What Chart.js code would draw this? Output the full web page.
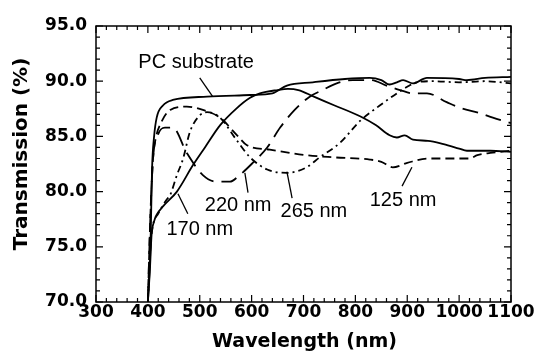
<!DOCTYPE html>
<html>
<head>
<meta charset="utf-8">
<script src="https://cdn.jsdelivr.net/npm/chart.js@4.4.0/dist/chart.umd.min.js"></script>
<style>
  body { margin: 0; background: #fff; }
  canvas { display: block; }
</style>
</head>
<body>
<canvas id="myCanvas" width="537" height="355"></canvas>
<script>
// transmission spectra (wavelength in nm, T in %)
const pcWl = [400, 405, 408, 412, 417, 429, 448, 514, 597, 640, 668, 718, 780, 828, 850, 866, 880, 892, 911, 938, 1000, 1015, 1050, 1100];
const pcT  = [70, 75, 82, 85.0, 86.7, 87.8, 88.3, 88.6, 88.75, 88.9, 89.6, 89.9, 90.2, 90.3, 90.1, 89.7, 89.9, 90.1, 89.8, 90.3, 90.2, 90.1, 90.3, 90.4];

const wl170 = [400, 404, 407, 412, 417, 430, 456, 487, 510, 539, 570, 597, 616, 650, 670, 690, 720, 760, 810, 840, 866, 880, 895, 911, 940, 970, 1000, 1015, 1060, 1100];
const t170  = [70, 73, 76, 77.3, 77.9, 78.7, 80.0, 82.4, 84.0, 86.0, 87.5, 88.5, 88.9, 89.2, 89.3, 89.2, 88.6, 87.8, 86.8, 86.0, 85.1, 84.9, 85.1, 84.7, 84.6, 84.3, 83.9, 83.7, 83.7, 83.6];

const wl125 = [400, 405, 410, 416, 423, 443, 475, 506, 539, 572, 591, 635, 706, 760, 828, 850, 872, 900, 940, 1020, 1035, 1060, 1100];
const t125  = [70, 78, 83, 85.0, 86.0, 87.4, 87.7, 87.4, 86.7, 85.1, 84.2, 83.8, 83.3, 83.1, 82.9, 82.7, 82.2, 82.6, 83.0, 83.0, 83.3, 83.5, 83.7];

const wl220 = [400, 405, 410, 419, 433, 448, 475, 506, 533, 558, 577, 600, 630, 655, 683, 712, 737, 764, 795, 830, 860, 886, 911, 938, 976, 1001, 1040, 1065, 1100];
const t220  = [70, 78, 83, 85.1, 85.8, 85.8, 83.5, 81.5, 80.9, 80.9, 81.5, 82.5, 84.0, 85.8, 87.4, 88.6, 89.2, 89.8, 90.1, 90.1, 89.6, 89.2, 88.9, 88.9, 88.1, 87.6, 87.1, 86.7, 86.2];

const wl265 = [400, 405, 410, 420, 435, 443, 456, 468, 481, 500, 514, 539, 572, 597, 630, 668, 706, 731, 770, 809, 847, 880, 900, 918, 950, 1000, 1050, 1100];
const t265  = [70, 75, 77, 78, 79.2, 79.7, 81.5, 83.0, 85.4, 86.9, 87.2, 86.7, 84.6, 83.1, 82.0, 81.7, 82.2, 83.1, 84.4, 86.4, 87.8, 88.9, 89.5, 89.9, 90.0, 89.9, 90.0, 89.8];

const xTicks = [300, 400, 500, 600, 700, 800, 900, 1000, 1100];
const yTicks = [70, 75, 80, 85, 90, 95];

// curve labels: text, label centre, leader start (on curve), leader end
const etiquetas = [
  { text: "PC substrate", x: 493, y: 91.65, from: [500, 90.3], to: [525, 88.6] },
  { text: "170 nm", x: 500, y: 76.6, from: [458, 79.8], to: [477, 78.0] },
  { text: "220 nm", x: 574, y: 78.7, from: [587, 81.7], to: [593, 79.9] },
  { text: "265 nm", x: 720, y: 78.2, from: [668, 81.8], to: [678, 79.4] },
  { text: "125 nm", x: 892, y: 79.2, from: [909, 82.2], to: [890, 80.5] }
];

const puntos = (xs, ys) => xs.map((x, i) => ({ x: x, y: ys[i] }));

const serie = (xs, ys, dash) => ({
  data: puntos(xs, ys),
  borderColor: "#000",
  borderWidth: 1.8,
  borderDash: dash,
  pointRadius: 0,
  fill: false,
  cubicInterpolationMode: "monotone"
});

const fuenteTicks = { family: "'DejaVu Sans', sans-serif", size: 17, weight: "bold" };

const marco = {
  id: "marco",
  afterDraw(chart) {
    const ctx = chart.ctx;
    const a = chart.chartArea;
    const sx = chart.scales.x;
    const sy = chart.scales.y;
    ctx.save();
    ctx.strokeStyle = "#000";
    ctx.lineWidth = 1.5;
    ctx.strokeRect(a.left, a.top, a.right - a.left, a.bottom - a.top);
    ctx.lineWidth = 1.2;
    ctx.beginPath();
    for (let v = 300; v <= 1100; v += 20) {
      const px = sx.getPixelForValue(v);
      const len = v % 100 === 0 ? 7 : 4;
      ctx.moveTo(px, a.bottom); ctx.lineTo(px, a.bottom - len);
      ctx.moveTo(px, a.top); ctx.lineTo(px, a.top + len);
    }
    for (let v = 70; v <= 95; v += 1) {
      const py = sy.getPixelForValue(v);
      const len = v % 5 === 0 ? 7 : 4;
      ctx.moveTo(a.left, py); ctx.lineTo(a.left + len, py);
      ctx.moveTo(a.right, py); ctx.lineTo(a.right - len, py);
    }
    ctx.stroke();

    // curve labels and leader lines
    ctx.font = "20px 'Liberation Sans', Arial, sans-serif";
    ctx.fillStyle = "#000";
    ctx.textAlign = "center";
    ctx.textBaseline = "middle";
    ctx.lineWidth = 1.3;
    etiquetas.forEach((e) => {
      ctx.fillText(e.text, sx.getPixelForValue(e.x), sy.getPixelForValue(e.y));
      ctx.beginPath();
      ctx.moveTo(sx.getPixelForValue(e.from[0]), sy.getPixelForValue(e.from[1]));
      ctx.lineTo(sx.getPixelForValue(e.to[0]), sy.getPixelForValue(e.to[1]));
      ctx.stroke();
    });

    // axis titles
    ctx.font = "bold 19px 'DejaVu Sans', sans-serif";
    ctx.fillText("Wavelength (nm)", (a.left + a.right) / 2 + 1, a.bottom + 40);
    ctx.font = "bold 20px 'DejaVu Sans', sans-serif";
    ctx.translate(22, (a.top + a.bottom) / 2 - 10);
    ctx.rotate(-Math.PI / 2);
    ctx.fillText("Transmission (%)", 0, 0);
    ctx.restore();
  }
};

const canvas = document.getElementById("myCanvas");

window.chart = new Chart(canvas, {
  type: "line",
  data: {
    datasets: [
      serie(pcWl, pcT, []),
      serie(wl170, t170, []),
      serie(wl125, t125, [9, 5]),
      serie(wl220, t220, [16, 8]),
      serie(wl265, t265, [7, 4, 2, 4])
    ]
  },
  options: {
    responsive: false,
    animation: false,
    devicePixelRatio: 1,
    layout: { padding: { left: 0, right: 26, top: 26, bottom: 0 } },
    plugins: { legend: { display: false }, tooltip: { enabled: false } },
    scales: {
      x: {
        type: "linear",
        min: 300,
        max: 1100,
        afterBuildTicks: (s) => { s.ticks = xTicks.map((v) => ({ value: v })); },
        afterFit: (s) => { s.height = 53; },
        grid: { display: false, drawTicks: false },
        border: { display: false },
        ticks: { color: "#000", font: fuenteTicks, padding: 0, maxRotation: 0, autoSkip: false, callback: (v) => String(v) }
      },
      y: {
        min: 70,
        max: 95,
        afterBuildTicks: (s) => { s.ticks = yTicks.map((v) => ({ value: v })); },
        afterFit: (s) => { s.width = 96; },
        grid: { display: false, drawTicks: false },
        border: { display: false },
        ticks: { color: "#000", font: fuenteTicks, padding: 9, callback: (v) => Number(v).toFixed(1) }
      }
    }
  },
  plugins: [marco]
});
</script>
</body>
</html>
